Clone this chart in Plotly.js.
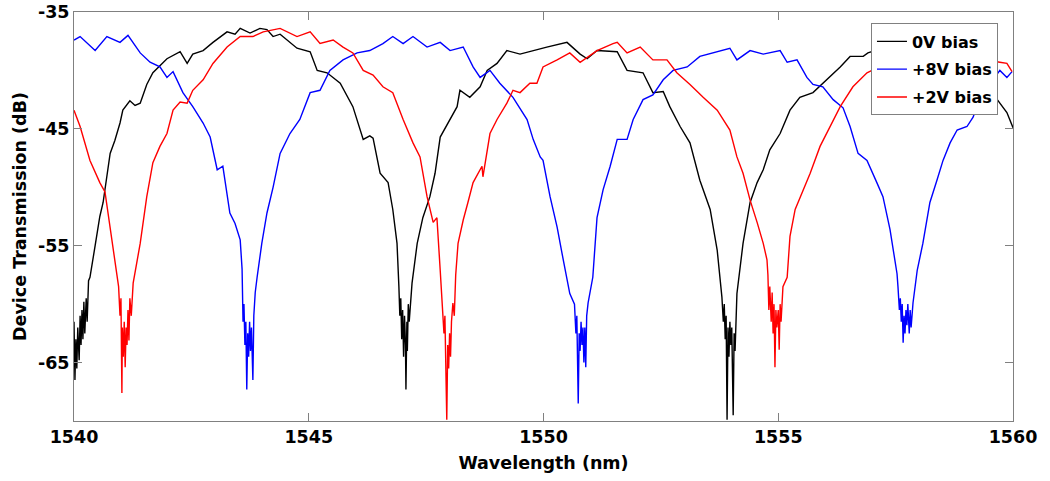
<!DOCTYPE html>
<html>
<head>
<meta charset="utf-8">
<script src="https://cdn.plot.ly/plotly-3.0.1.min.js"></script>
<style>
  html, body { margin: 0; padding: 0; background: #fff; }
  #chart { width: 1050px; height: 481px; }
</style>
</head>
<body>
<div id="chart"></div>
<script>
// ---- Data ----
const seriesNames = ["0V bias", "+8V bias", "+2V bias"];
const seriesColors = ["#000000", "#0000ff", "#ff0000"];

// 0V bias
const bias0Wl = [1540.00,1540.01,1540.02,1540.04,1540.06,1540.08,1540.11,1540.13,1540.15,1540.17,1540.19,1540.21,1540.23,1540.26,1540.28,1540.31,1540.34,1540.45,1540.55,1540.62,1540.70,1540.77,1540.87,1540.98,1541.04,1541.19,1541.30,1541.41,1541.55,1541.68,1541.83,1541.98,1542.26,1542.41,1542.53,1542.75,1542.96,1543.26,1543.43,1543.54,1543.75,1543.96,1544.11,1544.24,1544.39,1544.60,1544.75,1545.03,1545.18,1545.39,1545.67,1545.94,1546.16,1546.30,1546.37,1546.52,1546.69,1546.79,1546.88,1546.92,1546.94,1546.96,1546.98,1547.00,1547.02,1547.04,1547.06,1547.07,1547.09,1547.10,1547.12,1547.14,1547.20,1547.31,1547.43,1547.58,1547.69,1547.80,1548.01,1548.16,1548.22,1548.43,1548.65,1548.80,1549.01,1549.22,1549.50,1549.78,1550.07,1550.50,1550.78,1550.93,1551.14,1551.57,1551.78,1552.12,1552.33,1552.55,1552.69,1552.91,1553.12,1553.33,1553.55,1553.70,1553.80,1553.83,1553.85,1553.87,1553.89,1553.91,1553.93,1553.95,1553.97,1553.99,1554.01,1554.04,1554.06,1554.08,1554.10,1554.12,1554.25,1554.40,1554.55,1554.68,1554.82,1555.04,1555.25,1555.46,1555.74,1556.04,1556.32,1556.53,1556.81,1556.91,1557.30,1557.80,1558.30,1558.90,1559.30,1559.72,1559.87,1560.00];
const bias0Db = [-61.5,-64.0,-66.5,-63.0,-65.5,-62.0,-64.8,-61.0,-63.5,-60.5,-63.0,-59.8,-62.5,-59.5,-61.5,-58.0,-57.7,-55.0,-52.5,-51.3,-49.0,-47.1,-46.0,-44.5,-43.4,-42.6,-43.0,-42.8,-41.2,-40.2,-39.6,-39.0,-38.4,-39.4,-38.6,-38.3,-37.6,-36.7,-36.9,-36.4,-36.8,-36.4,-36.5,-37.1,-36.9,-37.6,-38.1,-38.4,-40.0,-40.2,-41.1,-43.1,-45.9,-45.6,-45.8,-48.8,-49.6,-51.9,-54.8,-58.5,-61.0,-59.5,-63.0,-60.5,-64.5,-61.0,-63.5,-67.3,-61.5,-64.0,-60.0,-61.5,-58.2,-54.8,-52.6,-50.8,-48.8,-45.7,-44.2,-43.1,-41.7,-42.3,-41.4,-40.0,-39.4,-38.3,-38.6,-38.3,-38.0,-37.6,-38.6,-39.0,-38.3,-38.4,-40.0,-40.2,-41.9,-41.8,-43.1,-44.8,-46.2,-49.4,-51.9,-55.4,-59.4,-61.5,-60.0,-63.0,-61.0,-69.9,-62.0,-64.5,-61.5,-63.5,-62.0,-69.5,-62.5,-64.0,-60.5,-59.1,-54.8,-51.3,-49.6,-48.5,-46.8,-45.4,-43.4,-42.3,-41.9,-40.8,-39.7,-38.8,-38.8,-38.5,-38.0,-37.8,-38.0,-39.0,-40.5,-42.8,-43.6,-44.9];

// +8V bias
const bias8Wl = [1540.00,1540.13,1540.45,1540.70,1540.98,1541.15,1541.41,1541.62,1541.83,1541.98,1542.11,1542.32,1542.53,1542.75,1542.90,1543.05,1543.17,1543.32,1543.43,1543.54,1543.58,1543.60,1543.62,1543.64,1543.66,1543.68,1543.70,1543.72,1543.74,1543.76,1543.78,1543.81,1543.83,1543.86,1543.90,1544.00,1544.11,1544.24,1544.39,1544.60,1544.81,1545.03,1545.24,1545.45,1545.73,1546.03,1546.30,1546.58,1546.79,1547.01,1547.22,1547.52,1547.80,1548.01,1548.29,1548.50,1548.65,1548.86,1549.07,1549.35,1549.65,1549.78,1549.93,1549.99,1550.14,1550.29,1550.42,1550.56,1550.66,1550.69,1550.71,1550.74,1550.76,1550.78,1550.80,1550.82,1550.84,1550.86,1550.88,1550.90,1550.92,1550.95,1551.05,1551.14,1551.27,1551.42,1551.57,1551.78,1551.91,1552.12,1552.33,1552.55,1552.76,1553.06,1553.33,1553.70,1553.97,1554.12,1554.40,1554.68,1555.04,1555.19,1555.40,1555.61,1555.74,1555.95,1556.17,1556.38,1556.53,1556.70,1556.89,1557.10,1557.23,1557.38,1557.53,1557.55,1557.58,1557.60,1557.62,1557.64,1557.66,1557.68,1557.70,1557.72,1557.74,1557.76,1557.79,1557.81,1557.83,1557.87,1557.96,1558.08,1558.23,1558.38,1558.51,1558.66,1558.81,1559.02,1559.15,1559.23,1559.45,1559.72,1559.87,1559.98];
const bias8Db = [-37.4,-37.1,-38.3,-37.1,-37.6,-37.0,-38.5,-39.3,-39.7,-40.6,-40.1,-41.9,-43.1,-44.5,-45.7,-48.5,-48.2,-52.2,-53.1,-54.5,-57.0,-61.5,-60.0,-63.5,-61.5,-67.3,-62.5,-64.5,-61.5,-64.0,-62.0,-66.5,-61.0,-59.0,-57.7,-54.8,-52.2,-50.0,-47.1,-45.4,-44.2,-41.9,-41.7,-40.0,-39.1,-38.5,-38.3,-37.7,-37.1,-37.7,-37.1,-38.0,-37.6,-38.3,-38.0,-39.7,-40.6,-40.0,-41.1,-42.3,-44.2,-45.9,-47.4,-47.7,-50.8,-53.4,-56.2,-59.1,-60.0,-62.5,-61.0,-68.5,-62.5,-64.0,-61.5,-63.5,-62.0,-65.0,-62.0,-65.4,-61.0,-59.9,-57.7,-52.6,-50.2,-48.2,-45.9,-45.9,-44.2,-42.5,-42.1,-40.8,-40.0,-39.7,-38.8,-38.4,-38.1,-39.1,-38.3,-38.6,-38.3,-39.3,-39.1,-40.6,-41.2,-41.4,-42.5,-43.2,-44.8,-47.1,-47.7,-49.6,-50.8,-53.6,-57.4,-58.5,-60.5,-59.5,-61.5,-60.0,-63.3,-61.0,-62.5,-60.5,-61.8,-60.0,-62.5,-60.5,-62.0,-59.9,-57.1,-54.8,-51.3,-49.4,-47.7,-46.2,-45.1,-44.8,-44.0,-43.1,-41.5,-40.0,-40.6,-40.1];

// +2V bias
const bias2Wl = [1540.00,1540.13,1540.34,1540.55,1540.66,1540.77,1540.87,1540.95,1540.98,1541.00,1541.02,1541.03,1541.05,1541.07,1541.09,1541.11,1541.13,1541.15,1541.17,1541.19,1541.22,1541.26,1541.41,1541.55,1541.68,1541.83,1541.98,1542.11,1542.26,1542.41,1542.53,1542.75,1542.96,1543.26,1543.54,1543.81,1544.03,1544.39,1544.75,1545.03,1545.24,1545.52,1545.73,1545.94,1546.16,1546.37,1546.58,1546.79,1547.01,1547.22,1547.37,1547.52,1547.65,1547.73,1547.80,1547.85,1547.88,1547.90,1547.92,1547.94,1547.96,1547.98,1548.00,1548.02,1548.04,1548.07,1548.10,1548.13,1548.18,1548.29,1548.39,1548.50,1548.69,1548.71,1548.86,1549.01,1549.22,1549.35,1549.50,1549.71,1549.86,1549.99,1550.29,1550.56,1550.78,1551.14,1551.48,1551.57,1551.78,1552.06,1552.33,1552.63,1552.84,1553.12,1553.40,1553.70,1553.97,1554.12,1554.25,1554.40,1554.55,1554.68,1554.76,1554.78,1554.80,1554.82,1554.85,1554.87,1554.89,1554.91,1554.93,1554.95,1554.97,1555.00,1555.02,1555.04,1555.06,1555.10,1555.19,1555.25,1555.36,1555.53,1555.68,1555.89,1556.10,1556.32,1556.59,1556.89,1557.50,1558.60,1559.72,1559.87,1559.98];
const bias2Db = [-43.4,-44.8,-47.7,-49.6,-50.4,-53.4,-56.5,-58.5,-61.0,-59.5,-67.6,-62.0,-64.5,-61.5,-65.4,-62.0,-63.5,-60.5,-63.1,-59.5,-61.0,-58.2,-54.8,-50.8,-47.9,-46.5,-45.4,-43.4,-42.7,-42.8,-41.7,-40.8,-39.4,-38.0,-37.1,-37.1,-36.7,-36.4,-37.1,-36.7,-37.7,-37.4,-38.0,-38.5,-40.0,-40.4,-41.4,-41.9,-44.2,-46.2,-47.4,-50.8,-53.0,-52.6,-57.1,-60.0,-62.5,-61.0,-64.5,-69.9,-63.5,-65.5,-62.5,-64.5,-61.5,-59.9,-61.0,-57.5,-54.8,-52.8,-51.3,-49.6,-48.2,-49.1,-45.4,-44.2,-42.8,-41.7,-41.9,-41.1,-41.1,-39.7,-39.1,-38.5,-39.3,-38.3,-37.7,-37.6,-38.5,-38.0,-39.1,-39.1,-40.2,-41.2,-42.3,-43.4,-45.1,-47.4,-48.8,-51.1,-53.0,-54.8,-56.2,-57.5,-60.5,-58.5,-61.5,-59.0,-62.5,-60.0,-65.4,-60.5,-62.0,-60.5,-63.9,-60.0,-61.5,-58.5,-57.7,-54.2,-51.9,-50.2,-48.8,-46.5,-44.8,-43.1,-41.4,-40.2,-39.0,-38.5,-39.3,-39.4,-40.1];

const xTickVals = [1540, 1545, 1550, 1555, 1560];
const yTickVals = [-35, -45, -55, -65];
const xTitle = "Wavelength (nm)";
const yTitle = "Device Transmission (dB)";

// ---- Chart ----
const FONT = "DejaVu Sans, Arial, sans-serif";
const xs = [bias0Wl, bias8Wl, bias2Wl];
const ys = [bias0Db, bias8Db, bias2Db];

const traces = seriesNames.map((name, i) => ({
  type: "scatter",
  mode: "lines",
  name: name,
  x: xs[i],
  y: ys[i],
  legendgroup: "g" + i,
  line: { color: seriesColors[i], width: 1.4 },
  hoverinfo: "skip"
}));

const axisCommon = {
  showgrid: false,
  zeroline: false,
  showline: true,
  linecolor: "#808080",
  linewidth: 1,
  mirror: "ticks",
  ticks: "inside",
  ticklen: 8,
  tickcolor: "#808080",
  tickwidth: 1,
  tickfont: { family: FONT, size: 17.5, color: "#000", weight: "bold" },
  fixedrange: true
};

const layout = {
  width: 1050,
  height: 481,
  margin: { l: 74, r: 37, t: 12, b: 60, pad: 0 },
  paper_bgcolor: "#ffffff",
  plot_bgcolor: "#ffffff",
  showlegend: true,
  xaxis: Object.assign({}, axisCommon, {
    range: [1540, 1560],
    tickvals: xTickVals,
    ticktext: xTickVals.map(String),
    title: { text: xTitle, font: { family: FONT, size: 17.5, color: "#000", weight: "bold" }, standoff: 10 }
  }),
  yaxis: Object.assign({}, axisCommon, {
    range: [-70, -35],
    tickvals: yTickVals,
    ticktext: yTickVals.map(String),
    title: { text: yTitle, font: { family: FONT, size: 17.5, color: "#000", weight: "bold" }, standoff: 6 }
  }),
  legend: {
    x: 0.984,
    y: 0.972,
    xanchor: "right",
    yanchor: "top",
    bgcolor: "#ffffff",
    bordercolor: "#808080",
    borderwidth: 1,
    tracegroupgap: 4,
    font: { family: FONT, size: 16, color: "#000", weight: "bold" }
  }
};

Plotly.newPlot("chart", traces, layout, { staticPlot: true, displayModeBar: false });
</script>
</body>
</html>
